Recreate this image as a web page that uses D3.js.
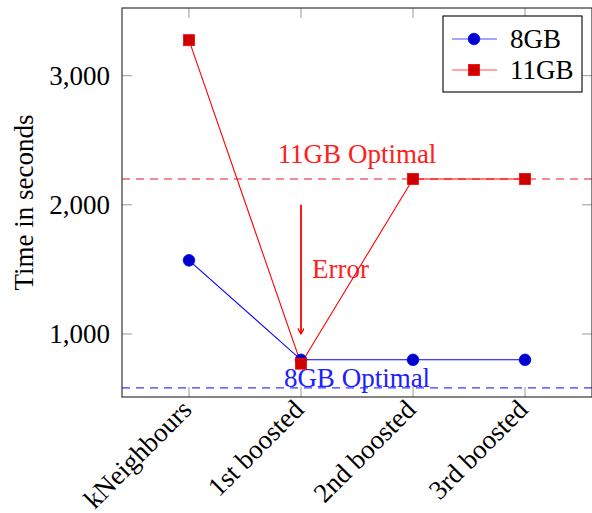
<!DOCTYPE html>
<html>
<head>
<meta charset="utf-8">
<script src="https://cdn.jsdelivr.net/npm/d3@7"></script>
<style>
    body { margin: 0; background: #fff; }
</style>
</head>
<body>
<div id="chart"></div>
<script>
// categories and series
var categories = ["kNeighbours", "1st boosted", "2nd boosted", "3rd boosted"];
var series8GB = [1570, 800, 800, 800];
var series11GB = [3275, 770, 2200, 2200];
var yTicks = [1000, 2000, 3000];
var optimal8GB = 583;
var optimal11GB = 2200;
var errorFrom = 2000;
var errorTo = 1000;

var width = 592, height = 513;
var margin = {top: 8, right: 0, bottom: 116, left: 122};
var fontSize = 27;

var svg = d3.select("#chart").append("svg")
    .attr("width", width)
    .attr("height", height)
    .attr("font-family", "'Liberation Serif', 'DejaVu Serif', serif");

// set the ranges
var x = d3.scalePoint()
    .domain(categories)
    .range([margin.left, width - margin.right])
    .padding(0.598);
var y = d3.scaleLinear()
    .domain([512, 3524])
    .range([height - margin.bottom, margin.top]);

var plotBottom = height - margin.bottom;
var plotRight = width - margin.right;

// arrowhead for the error marker
svg.append("defs").append("marker")
    .attr("id", "arrow")
    .attr("viewBox", "0 0 10 10")
    .attr("refX", 9).attr("refY", 5)
    .attr("markerWidth", 7).attr("markerHeight", 7)
    .attr("markerUnits", "userSpaceOnUse")
    .attr("orient", "auto")
    .append("path")
    .attr("d", "M1,0.5 L9,5 L1,9.5")
    .attr("fill", "none")
    .attr("stroke", "#ff0000")
    .attr("stroke-width", 1.8);

// optimal reference lines
svg.append("line")
    .attr("x1", margin.left).attr("x2", plotRight)
    .attr("y1", y(optimal11GB)).attr("y2", y(optimal11GB))
    .attr("stroke", "#dd1c22").attr("stroke-width", 1.2)
    .attr("stroke-dasharray", "8,6");
svg.append("line")
    .attr("x1", margin.left).attr("x2", plotRight)
    .attr("y1", y(optimal8GB)).attr("y2", y(optimal8GB))
    .attr("stroke", "#3a3aff").attr("stroke-width", 1.2)
    .attr("stroke-dasharray", "8,6");

svg.append("text")
    .attr("x", (margin.left + plotRight) / 2)
    .attr("y", y(optimal11GB) - 16)
    .attr("text-anchor", "middle")
    .attr("font-size", fontSize)
    .attr("fill", "#ff2020")
    .text("11GB Optimal");
svg.append("text")
    .attr("x", (margin.left + plotRight) / 2)
    .attr("y", y(optimal8GB) - 1)
    .attr("text-anchor", "middle")
    .attr("font-size", fontSize)
    .attr("fill", "#2020ff")
    .text("8GB Optimal");

// the error arrow
svg.append("line")
    .attr("x1", x("1st boosted")).attr("x2", x("1st boosted"))
    .attr("y1", y(errorFrom)).attr("y2", y(errorTo))
    .attr("stroke", "#ff0000").attr("stroke-width", 1.8)
    .attr("marker-end", "url(#arrow)");
svg.append("text")
    .attr("x", x("1st boosted") + 11)
    .attr("y", y((errorFrom + errorTo) / 2) + 9)
    .attr("font-size", fontSize)
    .attr("fill", "#ff2020")
    .text("Error");

// define the lines
var line = d3.line()
    .x(function(d, i) { return x(categories[i]); })
    .y(function(d) { return y(d); });

svg.append("path")
    .datum(series8GB)
    .attr("d", line)
    .attr("fill", "none")
    .attr("stroke", "#0000ff")
    .attr("stroke-width", 1.1);
svg.append("path")
    .datum(series11GB)
    .attr("d", line)
    .attr("fill", "none")
    .attr("stroke", "#ff0000")
    .attr("stroke-width", 1.1);

// markers
svg.selectAll(".dot8")
    .data(series8GB)
    .enter().append("circle")
    .attr("class", "dot8")
    .attr("cx", function(d, i) { return x(categories[i]); })
    .attr("cy", function(d) { return y(d); })
    .attr("r", 5.8)
    .attr("fill", "#0000cc")
    .attr("stroke", "#0000ff")
    .attr("stroke-width", 0.8);
svg.selectAll(".dot11")
    .data(series11GB)
    .enter().append("rect")
    .attr("class", "dot11")
    .attr("x", function(d, i) { return x(categories[i]) - 5.5; })
    .attr("y", function(d) { return y(d) - 5.5; })
    .attr("width", 11)
    .attr("height", 11)
    .attr("fill", "#cc0000")
    .attr("stroke", "#ff0000")
    .attr("stroke-width", 0.8);

// inward ticks on all four sides
var tickLen = 10;
var tickColor = "#999";
categories.forEach(function(c) {
    svg.append("line")
        .attr("x1", x(c)).attr("x2", x(c))
        .attr("y1", plotBottom).attr("y2", plotBottom - tickLen)
        .attr("stroke", tickColor);
    svg.append("line")
        .attr("x1", x(c)).attr("x2", x(c))
        .attr("y1", margin.top).attr("y2", margin.top + tickLen)
        .attr("stroke", tickColor);
});
yTicks.forEach(function(t) {
    svg.append("line")
        .attr("x1", margin.left).attr("x2", margin.left + tickLen)
        .attr("y1", y(t)).attr("y2", y(t))
        .attr("stroke", tickColor);
    svg.append("line")
        .attr("x1", plotRight).attr("x2", plotRight - tickLen)
        .attr("y1", y(t)).attr("y2", y(t))
        .attr("stroke", tickColor);
});

// frame
svg.append("rect")
    .attr("x", margin.left).attr("y", margin.top)
    .attr("width", plotRight - margin.left)
    .attr("height", plotBottom - margin.top)
    .attr("fill", "none")
    .attr("stroke", "#222")
    .attr("stroke-width", 1.1);

// y tick labels
var fmt = d3.format(",");
svg.selectAll(".ylab")
    .data(yTicks)
    .enter().append("text")
    .attr("class", "ylab")
    .attr("x", margin.left - 12)
    .attr("y", function(d) { return y(d); })
    .attr("dy", "0.33em")
    .attr("text-anchor", "end")
    .attr("font-size", fontSize)
    .text(function(d) { return fmt(d); });

// x tick labels, rotated
svg.selectAll(".xlab")
    .data(categories)
    .enter().append("text")
    .attr("class", "xlab")
    .attr("transform", function(d) {
        return "translate(" + (x(d) - 2) + "," + (plotBottom + 8) + ") rotate(-45)";
    })
    .attr("dy", "0.33em")
    .attr("text-anchor", "end")
    .attr("font-size", fontSize)
    .text(function(d) { return d; });

// y axis title
svg.append("text")
    .attr("transform", "translate(33," + ((margin.top + plotBottom) / 2) + ") rotate(-90)")
    .attr("text-anchor", "middle")
    .attr("font-size", fontSize)
    .text("Time in seconds");

// legend
var legend = svg.append("g");
legend.append("rect")
    .attr("x", 443).attr("y", 16)
    .attr("width", 139).attr("height", 76)
    .attr("fill", "#fff")
    .attr("stroke", "#000")
    .attr("stroke-width", 1.1);
var legendItems = [
    {name: "8GB", color: "#0000ff", fill: "#0000cc", shape: "circle"},
    {name: "11GB", color: "#ff0000", fill: "#cc0000", shape: "square"}
];
legendItems.forEach(function(item, i) {
    var cy = 39 + i * 31;
    legend.append("line")
        .attr("x1", 452).attr("x2", 497)
        .attr("y1", cy).attr("y2", cy)
        .attr("stroke", item.color)
        .attr("stroke-opacity", 0.7)
        .attr("stroke-width", 1.1);
    if (item.shape == "circle") {
        legend.append("circle")
            .attr("cx", 474).attr("cy", cy).attr("r", 5.8)
            .attr("fill", item.fill).attr("stroke", item.color).attr("stroke-width", 0.8);
    } else {
        legend.append("rect")
            .attr("x", 468.5).attr("y", cy - 5.5)
            .attr("width", 11).attr("height", 11)
            .attr("fill", item.fill).attr("stroke", item.color).attr("stroke-width", 0.8);
    }
    legend.append("text")
        .attr("x", 510).attr("y", cy)
        .attr("dy", "0.33em")
        .attr("font-size", fontSize)
        .text(item.name);
});
</script>
</body>
</html>
